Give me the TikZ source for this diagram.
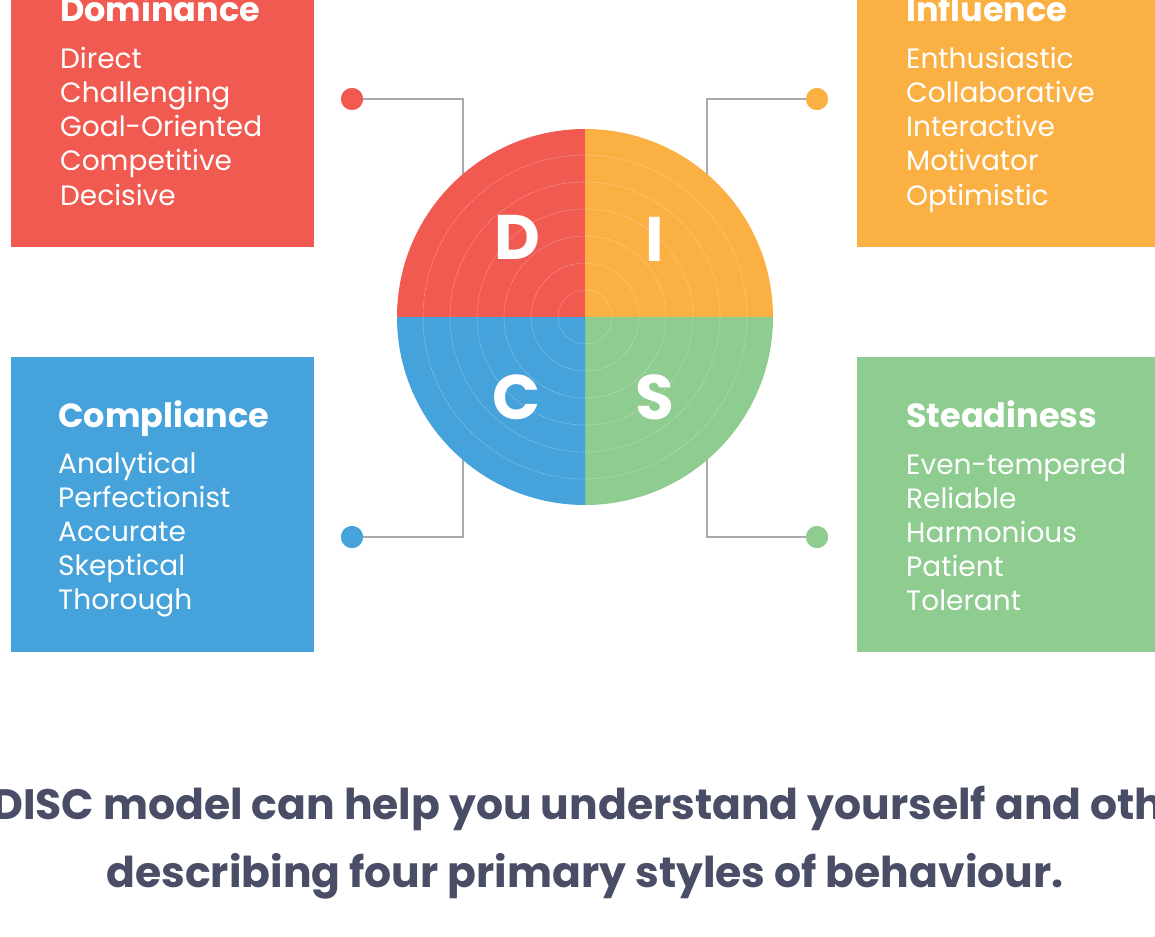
\documentclass[tikz,border=0pt]{standalone}
\usepackage{fontspec}
\setmainfont{Poppins}
\usepackage{tikz}
\usetikzlibrary{positioning}

\definecolor{dRed}{HTML}{F05A50}
\definecolor{iOrange}{HTML}{FBB043}
\definecolor{sGreen}{HTML}{8ECC8F}
\definecolor{cBlue}{HTML}{45A2DA}
\definecolor{wireGray}{HTML}{A9AAAE}
\definecolor{capInk}{HTML}{494D65}

\begin{document}
\begin{tikzpicture}[
    x=1pt, y=-1pt,
    box/.style={rectangle, draw=none, minimum width=303pt, minimum height=295pt, inner sep=0pt},
    head/.style={anchor=base west, inner sep=0pt, text=white, font=\fontsize{33.5}{40}\selectfont\bfseries},
    item/.style={anchor=base west, inner sep=0pt, text=white, font=\fontsize{28}{34}\selectfont},
    letter/.style={inner sep=0pt, text=white, font=\fontsize{63}{63}\selectfont\bfseries},
    dot/.style={circle, minimum size=22pt, inner sep=0pt},
    wire/.style={draw=wireGray, line width=2.6pt},
    ring/.style={draw=white, opacity=0.35, line width=0.6pt, dash pattern=on 2pt off 1pt},
    caption/.style={inner sep=0pt, text=capInk, font=\fontsize{42.5}{50}\selectfont\bfseries}
]
    \useasboundingbox (0,0) rectangle (1155,936);
    \clip (0,0) rectangle (1155,936);

    % Style boxes
    \node[box, fill=dRed] (dom) at (162.5,99.5) {};
    \node[box, fill=iOrange] (inf) at (1008.5,99.5) {};
    \node[box, fill=cBlue] (com) at (162.5,504.5) {};
    \node[box, fill=sGreen] (ste) at (1008.5,504.5) {};

    % Box texts
    \node[head] (domT) at (60,22) {Dominance};
    \foreach \w [count=\i] in {Direct,Challenging,Goal-Oriented,Competitive,Decisive}
        \node[item] (dom\i) at (60,35+34*\i) {\w};

    \node[head] (infT) at (906,22) {Influence};
    \foreach \w [count=\i] in {Enthusiastic,Collaborative,Interactive,Motivator,Optimistic}
        \node[item] (inf\i) at (906,35+34*\i) {\w};

    \node[head] (comT) at (58,427) {Compliance};
    \foreach \w [count=\i] in {Analytical,Perfectionist,Accurate,Skeptical,Thorough}
        \node[item] (com\i) at (58,439+34*\i) {\w};

    \node[head] (steT) at (906,427) {Steadiness};
    \foreach \w [count=\i] in {Even-tempered,Reliable,Harmonious,Patient,Tolerant}
        \node[item] (ste\i) at (906,440+34*\i) {\w};

    % Connector dots and wires (wires run under the disc)
    \node[dot, fill=dRed] (dotD) at (352,99) {};
    \node[dot, fill=iOrange] (dotI) at (817,99) {};
    \node[dot, fill=cBlue] (dotC) at (352,537) {};
    \node[dot, fill=sGreen] (dotS) at (817,537) {};
    \coordinate (kD) at (463,220);
    \coordinate (kI) at (707,220);
    \coordinate (kC) at (463,414);
    \coordinate (kS) at (707,414);
    \draw[wire] (dotD.center) -| (kD);
    \draw[wire] (dotI.center) -| (kI);
    \draw[wire] (dotC.center) -| (kC);
    \draw[wire] (dotS.center) -| (kS);
    \node[dot, fill=dRed] at (dotD) {};
    \node[dot, fill=iOrange] at (dotI) {};
    \node[dot, fill=cBlue] at (dotC) {};
    \node[dot, fill=sGreen] at (dotS) {};

    % DISC disc
    \coordinate (disc) at (585,317);
    \fill[dRed] (disc) -- ++(-188,0) arc[start angle=180, end angle=90, radius=188pt] -- cycle;
    \fill[iOrange] (disc) -- ++(0,-188) arc[start angle=90, end angle=0, radius=188pt] -- cycle;
    \fill[sGreen] (disc) -- ++(188,0) arc[start angle=0, end angle=-90, radius=188pt] -- cycle;
    \fill[cBlue] (disc) -- ++(0,188) arc[start angle=270, end angle=180, radius=188pt] -- cycle;
    \foreach \r in {27,54,81,108,135,162}
        \draw[ring] (disc) circle[radius=\r pt];

    \node[letter] (lD) at (517,237) {D};
    \node[letter] (lI) at (655,239) {I};
    \node[letter] (lC) at (516,397) {C};
    \node[letter] (lS) at (655,397) {S};

    % Caption
    \node[caption, anchor=base west] (cap1) at (-8,819) {DISC model can help you understand yourself and others};
    \node[caption, anchor=base] (cap2) at (585,887) {describing four primary styles of behaviour.};
\end{tikzpicture}
\end{document}
